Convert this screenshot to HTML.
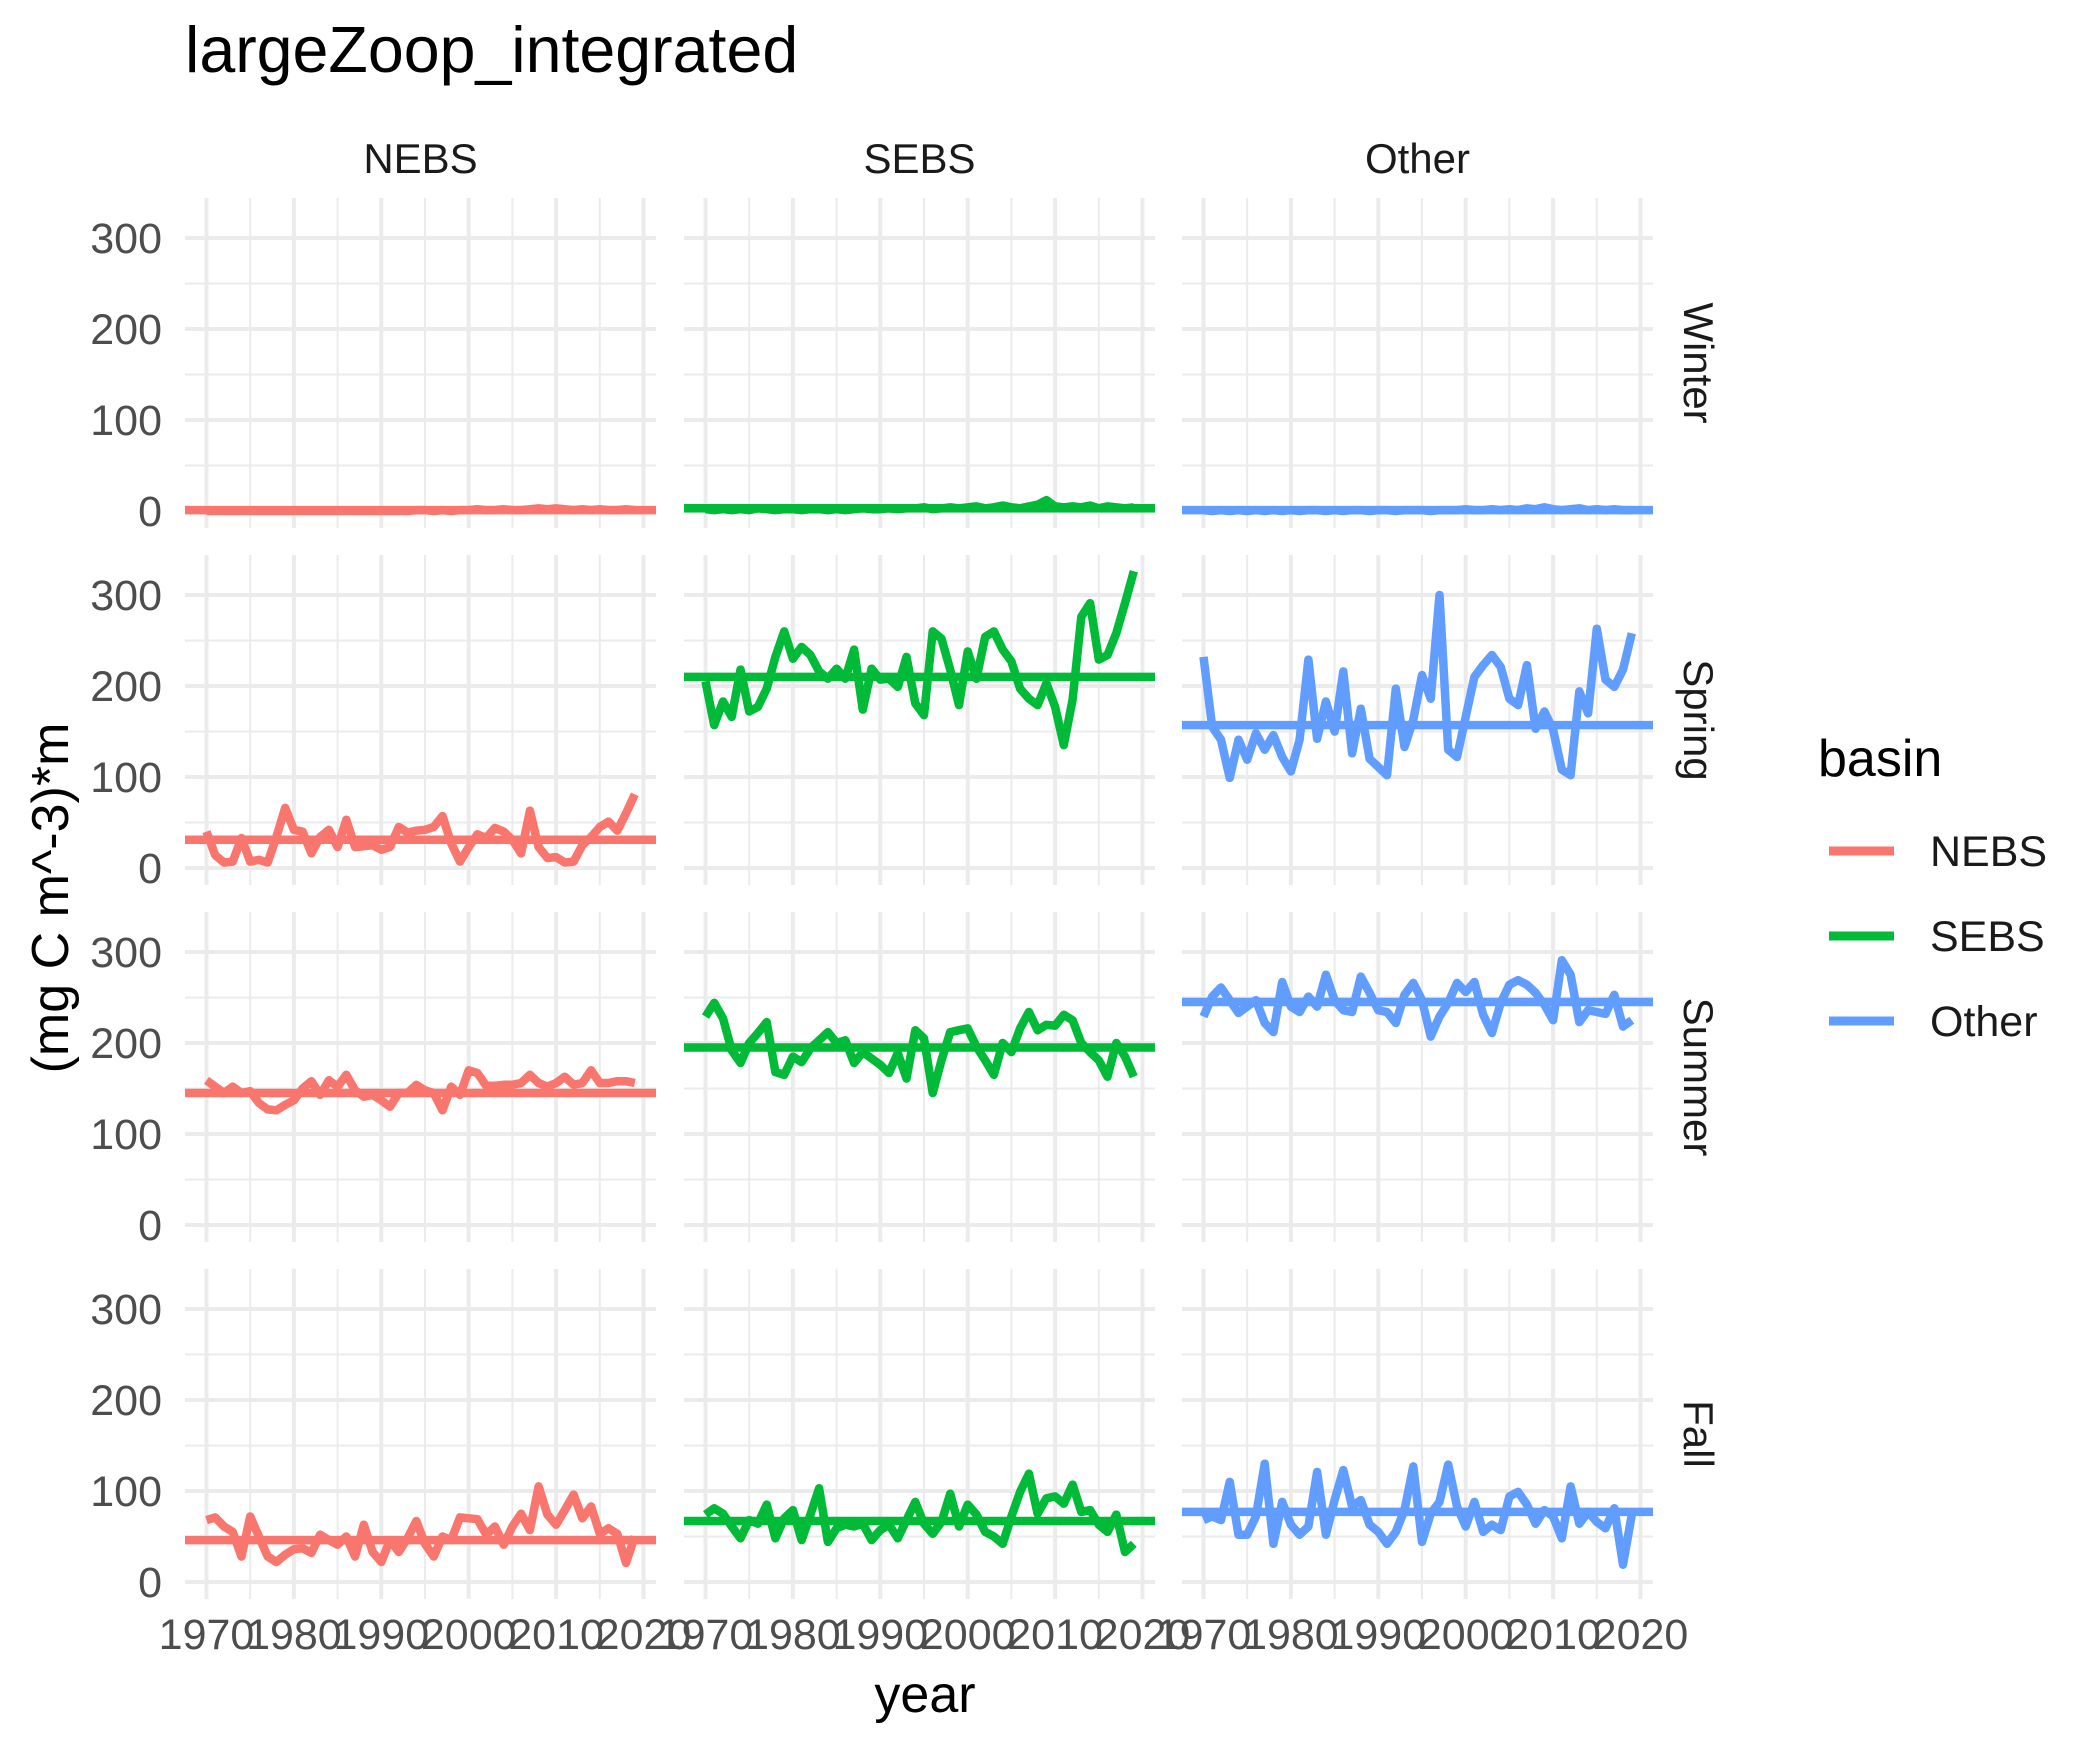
<!DOCTYPE html>
<html><head><meta charset="utf-8"><style>
html,body{margin:0;padding:0;background:#fff;}
svg{display:block;font-family:"Liberation Sans",Arial,sans-serif;}
</style></head><body>
<svg id="chart" width="2100" height="1750" viewBox="0 0 2100 1750" xmlns="http://www.w3.org/2000/svg">
<text x="185" y="72" font-size="64.5" fill="#000">largeZoop_integrated</text>
<g id="panels"></g>
<text x="925" y="1712" font-size="52" text-anchor="middle" fill="#000">year</text>
<text transform="translate(68,898) rotate(-90)" font-size="52" text-anchor="middle" fill="#000">(mg C m^-3)*m</text>
<g>
<text x="1818" y="776" font-size="52" fill="#000">basin</text>
<line x1="1829" x2="1894" y1="851" y2="851" stroke="#F8766D" stroke-width="9"/>
<text x="1930" y="866" font-size="43" fill="#1A1A1A">NEBS</text>
<line x1="1829" x2="1894" y1="936" y2="936" stroke="#00BA38" stroke-width="9"/>
<text x="1930" y="951" font-size="43" fill="#1A1A1A">SEBS</text>
<line x1="1829" x2="1894" y1="1021" y2="1021" stroke="#619CFF" stroke-width="9"/>
<text x="1930" y="1036" font-size="43" fill="#1A1A1A">Other</text>
</g>
</svg>
<script>
const basins = ["NEBS","SEBS","Other"];
const seasons = ["Winter","Spring","Summer","Fall"];
const colors = ["#F8766D","#00BA38","#619CFF"];
const startYear = 1970;
const yTicks = [0,100,200,300];
const xTicks = [1970,1980,1990,2000,2010,2020];
const means = {
 NEBS:[1,31,145,46], SEBS:[3,210,195,67], Other:[1,157,245,77]
};
const nebsWinter = [0,0,0,0,0,0,0,0,0,0,0,0,0,0,0,0,0,0,0,0,0,0,0,0,1,1,0,1,0,1,1,2,1,1,2,1,1,2,3,2,3,2,1,2,1,2,1,1,2,1];
const sebsWinter = [2,1,2,1,2,1,3,2,1,2,2,1,2,2,1,2,1,2,3,2,2,3,2,3,3,4,2,3,4,3,4,5,3,4,6,4,3,5,7,12,5,4,5,4,6,3,5,4,3,4];
const otherWinter = [1,0,1,0,1,0,1,0,1,0,1,0,1,1,0,1,0,1,1,0,1,1,0,1,1,1,0,1,1,1,2,1,1,2,1,2,1,3,2,4,2,1,2,3,1,2,1,2,1,1];
const nebsSpring = [40,14,6,7,33,7,9,6,34,66,42,40,16,34,42,23,53,23,24,25,20,23,45,39,41,42,45,57,27,7,23,37,33,44,40,31,16,63,23,11,12,6,7,25,34,45,51,41,60,81];
const sebsSpring = [205,157,183,166,218,172,177,197,232,260,230,243,234,216,208,219,208,240,174,219,207,208,199,232,181,168,260,252,218,179,238,208,254,260,240,227,197,186,179,203,177,135,185,276,291,229,234,258,291,326];
const otherSpring = [232,155,141,99,141,119,148,130,146,122,106,141,229,142,183,150,216,126,175,120,111,102,197,133,163,212,186,300,130,122,166,210,223,234,221,186,179,223,153,172,152,108,102,194,170,263,207,199,218,258];
const nebsSummer = [159,152,145,152,145,147,134,127,126,132,137,150,158,143,159,152,165,148,141,143,137,130,145,145,154,148,145,126,152,143,170,167,153,153,154,154,156,165,156,152,156,163,154,156,170,156,156,158,158,156];
const sebsSummer = [229,244,227,192,178,200,211,223,168,165,185,179,194,203,212,200,203,178,190,183,176,167,189,161,214,205,145,181,212,214,216,196,181,165,200,190,216,234,214,220,219,231,225,200,190,181,163,200,185,163];
const otherSummer = [229,251,261,247,233,240,247,222,212,267,240,234,251,240,275,247,236,234,273,255,236,234,222,253,266,247,207,229,244,266,256,267,231,211,244,264,269,264,255,242,225,291,275,223,236,234,232,253,218,225];
const nebsFall = [68,71,61,55,28,72,50,28,22,30,36,37,32,52,46,41,50,28,63,33,22,46,33,48,67,42,28,50,46,71,70,69,52,61,41,61,75,57,105,74,63,79,96,70,83,53,59,53,21,50];
const sebsFall = [74,81,75,61,48,68,64,85,48,70,79,46,74,103,44,59,63,61,64,46,57,63,48,68,88,64,53,66,97,61,85,74,55,50,42,72,99,119,75,92,94,86,107,77,79,63,55,74,33,42];
const otherFall = [68,72,68,110,52,52,72,130,42,88,63,52,61,121,52,90,123,83,90,63,55,42,55,79,127,44,75,88,129,83,61,88,55,63,57,94,99,85,64,79,72,48,105,64,77,66,59,81,19,74];
const series = {
 NEBS:[nebsWinter,nebsSpring,nebsSummer,nebsFall],
 SEBS:[sebsWinter,sebsSpring,sebsSummer,sebsFall],
 Other:[otherWinter,otherSpring,otherSummer,otherFall]
};
const NS="http://www.w3.org/2000/svg";
const panelLeft=[185,684,1182], panelW=471, rowTop=[198,555,912,1269], panelH=330;
function xs(c,yr){return panelLeft[c]+21.5+(yr-1970)*8.74;}
function ys(r,v){return rowTop[r]+panelH-(v+18.7)*0.91;}
function mk(tag,attrs,parent){const e=document.createElementNS(NS,tag);for(const k in attrs)e.setAttribute(k,attrs[k]);parent.appendChild(e);return e;}
const root=document.getElementById('panels');
for(let r=0;r<4;r++){
 for(let c=0;c<3;c++){
  const g=mk('g',{},root);
  
  
  const L=panelLeft[c],T=rowTop[r];
  for(const v of [50,150,250]){const l=mk('line',{x1:L,x2:L+panelW,y1:ys(r,v),y2:ys(r,v),stroke:'#EBEBEB','stroke-width':2},g);
   
   }
  for(let yr=1975;yr<2020;yr+=10){const l=mk('line',{x1:xs(c,yr),x2:xs(c,yr),y1:T,y2:T+panelH,stroke:'#EBEBEB','stroke-width':2},g);
   
   }
  for(const v of yTicks){const l=mk('line',{x1:L,x2:L+panelW,y1:ys(r,v),y2:ys(r,v),stroke:'#EBEBEB','stroke-width':4},g);
   
   }
  for(const yr of xTicks){const l=mk('line',{x1:xs(c,yr),x2:xs(c,yr),y1:T,y2:T+panelH,stroke:'#EBEBEB','stroke-width':4},g);
   
   }
  const vals=series[basins[c]][r];
  const pts=vals.map((v,i)=>xs(c,startYear+i).toFixed(1)+','+ys(r,v).toFixed(1)).join(' ');
  const pl=mk('polyline',{points:pts,fill:'none',stroke:colors[c],'stroke-width':8.5,'stroke-linejoin':'round'},g);
  
  
  const m=means[basins[c]][r];
  const ml=mk('line',{x1:L,x2:L+panelW,y1:ys(r,m),y2:ys(r,m),stroke:colors[c],'stroke-width':8.5},g);
  
  
  if(c===0){for(const v of yTicks){const t=mk('text',{x:162,y:ys(r,v)+15,'font-size':43,'text-anchor':'end',fill:'#4D4D4D'},root);t.textContent=v;
   
   }}
  if(r===3){for(const yr of xTicks){const t=mk('text',{x:xs(c,yr),y:1649,'font-size':43,'text-anchor':'middle',fill:'#4D4D4D'},root);t.textContent=yr;
   
   }}
 }
 const st=mk('text',{transform:'translate(1684,'+(rowTop[r]+panelH/2)+') rotate(90)','font-size':42,'text-anchor':'middle',fill:'#1A1A1A'},root);
 st.textContent=seasons[r];
 
 
}
for(let c=0;c<3;c++){
 const t=mk('text',{x:panelLeft[c]+panelW/2,y:173,'font-size':42,'text-anchor':'middle',fill:'#1A1A1A'},root);
 t.textContent=basins[c];
 
 
}
</script>
</body></html>
